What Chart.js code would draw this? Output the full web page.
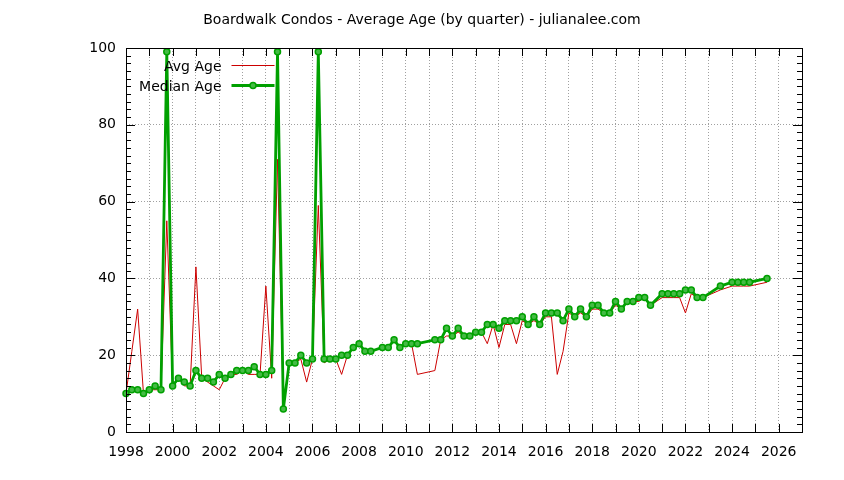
<!DOCTYPE html>
<html>
<head>
<meta charset="utf-8">
<script src="https://cdn.jsdelivr.net/npm/chart.js@4.4.1/dist/chart.umd.min.js"></script>
<style>
html,body{margin:0;padding:0;background:#fff;}
canvas{display:block;}
</style>
</head>
<body>
<canvas id="c" width="844" height="480"></canvas>
<script>
// ---- data (decimal year of each quarter) ----
const quarters = [
  1998.00,1998.25,1998.50,1998.75,
  1999.00,1999.25,1999.50,1999.75,
  2000.00,2000.25,2000.50,2000.75,
  2001.00,2001.25,2001.50,2001.75,
  2002.00,2002.25,2002.50,2002.75,
  2003.00,2003.25,2003.50,2003.75,
  2004.00,2004.25,2004.50,2004.75,
  2005.00,2005.25,2005.50,2005.75,
  2006.00,2006.25,2006.50,2006.75,
  2007.00,2007.25,2007.50,2007.75,
  2008.00,2008.25,2008.50,
  2009.00,2009.25,2009.50,2009.75,
  2010.00,2010.25,2010.50,
  2011.25,2011.50,2011.75,
  2012.00,2012.25,2012.50,2012.75,
  2013.00,2013.25,2013.50,2013.75,
  2014.00,2014.25,2014.50,2014.75,
  2015.00,2015.25,2015.50,2015.75,
  2016.00,2016.25,2016.50,2016.75,
  2017.00,2017.25,2017.50,2017.75,
  2018.00,2018.25,2018.50,2018.75,
  2019.00,2019.25,2019.50,2019.75,
  2020.00,2020.25,2020.50,
  2021.00,2021.25,2021.50,2021.75,
  2022.00,2022.25,2022.50,2022.75,
  2023.50,
  2024.00,2024.25,2024.50,2024.75,
  2025.50
];
const avgAge = [
  10,21,32,10,
  11,11,11,55,
  12,14,12,12,
  43,14,13,12,
  11,14,15,15,
  16,15,15,15,
  38,14,71,6,
  18,18,19,13,
  19,59,18,19,
  19,15,20,22,
  23,21,21,
  22,22,24,22,
  23,23,15,
  16,24,25,
  25,26,25,25,
  26,26,23,28,
  22,28,28,23,
  29,28,29,28,
  30,30,15,21,
  31,30,31,30,
  32,32,31,31,
  33,32,34,34,
  34,35,33,
  35,35,35,35,
  31,36,35,35,
  37,
  38,38,38,38,
  39
];
const medianAge = [
  10,11,11,10,
  11,12,11,99,
  12,14,13,12,
  16,14,14,13,
  15,14,15,16,
  16,16,17,15,
  15,16,99,6,
  18,18,20,18,
  19,99,19,19,
  19,20,20,22,
  23,21,21,
  22,22,24,22,
  23,23,23,
  24,24,27,
  25,27,25,25,
  26,26,28,28,
  27,29,29,29,
  30,28,30,28,
  31,31,31,29,
  32,30,32,30,
  33,33,31,31,
  34,32,34,34,
  35,35,33,
  36,36,36,36,
  37,37,35,35,
  38,
  39,39,39,39,
  40
];
const xTickLabels = [1998,2000,2002,2004,2006,2008,2010,2012,2014,2016,2018,2020,2022,2024,2026];
const yTickLabels = [0,20,40,60,80,100];
const seriesNames = ['Avg Age','Median Age'];
const titleText = 'Boardwalk Condos - Average Age (by quarter) - julianalee.com';

// ---- styles ----
const FONT = '"DejaVu Sans", sans-serif';
const RED = '#cc0000';
const GREEN = '#00a000';
const GREEN_FILL = '#44bb44';

const decor = {
  id: 'decor',
  afterDatasetsDraw(chart) {
    const {ctx, chartArea: a, scales} = chart;
    const xs = scales.x, ys = scales.y;
    ctx.save();
    // tick marks (inward, mirrored)
    ctx.strokeStyle = '#000';
    ctx.lineWidth = 1;
    ctx.beginPath();
    for (let v = xs.min; v <= xs.max; v += 1) {
      const px = Math.round(xs.getPixelForValue(v)) + 0.5;
      ctx.moveTo(px, a.bottom); ctx.lineTo(px, a.bottom - 8);
      ctx.moveTo(px, a.top); ctx.lineTo(px, a.top + 8);
    }
    for (let v = ys.min; v <= ys.max; v += 2) {
      const len = (v % 20 === 0) ? 9 : 5;
      const py = Math.round(ys.getPixelForValue(v)) + 0.5;
      ctx.moveTo(a.left, py); ctx.lineTo(a.left + len, py);
      ctx.moveTo(a.right, py); ctx.lineTo(a.right - len, py);
    }
    ctx.stroke();
    // border box
    ctx.strokeRect(a.left + 0.5, a.top + 0.5, a.right - a.left, a.bottom - a.top);

    // legend (gnuplot style: text then sample)
    ctx.font = '14px ' + FONT;
    ctx.fillStyle = '#000';
    ctx.textAlign = 'right';
    ctx.textBaseline = 'alphabetic';
    const tx = 221.5, lx0 = 231.5, lx1 = 274.5;
    ctx.fillText(seriesNames[0], tx, 70.5);
    ctx.fillText(seriesNames[1], tx, 90.5);
    ctx.strokeStyle = RED; ctx.lineWidth = 1;
    ctx.beginPath(); ctx.moveTo(lx0, 65.5); ctx.lineTo(lx1, 65.5); ctx.stroke();
    ctx.strokeStyle = GREEN; ctx.lineWidth = 2.8;
    ctx.beginPath(); ctx.moveTo(lx0, 85.5); ctx.lineTo(lx1, 85.5); ctx.stroke();
    ctx.beginPath(); ctx.arc((lx0 + lx1) / 2, 85.5, 3, 0, Math.PI * 2);
    ctx.fillStyle = GREEN_FILL; ctx.fill();
    ctx.lineWidth = 1.5; ctx.strokeStyle = GREEN; ctx.stroke();

    // title
    ctx.fillStyle = '#000';
    ctx.textAlign = 'center';
    ctx.fillText(titleText, 422, 24);
    ctx.restore();
  }
};

new Chart(document.getElementById('c'), {
  type: 'scatter',
  data: {
    datasets: [
      {
        label: seriesNames[1],
        data: quarters.map((q, i) => ({x: q, y: medianAge[i]})),
        showLine: true,
        borderColor: GREEN,
        borderWidth: 2.8,
        pointRadius: 3,
        pointBorderWidth: 1.5,
        pointBackgroundColor: GREEN_FILL,
        pointBorderColor: GREEN,
        tension: 0,
        clip: 6,
        order: 0
      },
      {
        label: seriesNames[0],
        data: quarters.map((q, i) => ({x: q, y: avgAge[i]})),
        showLine: true,
        borderColor: RED,
        borderWidth: 1,
        pointRadius: 0,
        tension: 0,
        order: 1
      }
    ]
  },
  options: {
    responsive: false,
    animation: false,
    layout: {padding: {top: 48, right: 42, left: 0, bottom: 0}},
    plugins: {
      legend: {display: false},
      title: {display: false},
      tooltip: {enabled: false}
    },
    scales: {
      x: {
        type: 'linear',
        min: 1998,
        max: 2027,
        afterFit(s) { s.height = 48; },
        ticks: {
          stepSize: 1,
          autoSkip: false,
          maxRotation: 0,
          color: '#000',
          padding: 12,
          font: {family: FONT, size: 14},
          callback: v => xTickLabels.includes(v) ? String(v) : ''
        },
        grid: {color: '#a0a0a0', lineWidth: 1, drawTicks: false},
        border: {display: false, dash: [1, 2]}
      },
      y: {
        min: 0,
        max: 100,
        afterFit(s) { s.width = 126; },
        ticks: {
          stepSize: 20,
          color: '#000',
          padding: 10,
          font: {family: FONT, size: 14},
          callback: v => yTickLabels.includes(v) ? String(v) : ''
        },
        grid: {color: '#a0a0a0', lineWidth: 1, drawTicks: false},
        border: {display: false, dash: [1, 2]}
      }
    }
  },
  plugins: [decor]
});
</script>
</body>
</html>
